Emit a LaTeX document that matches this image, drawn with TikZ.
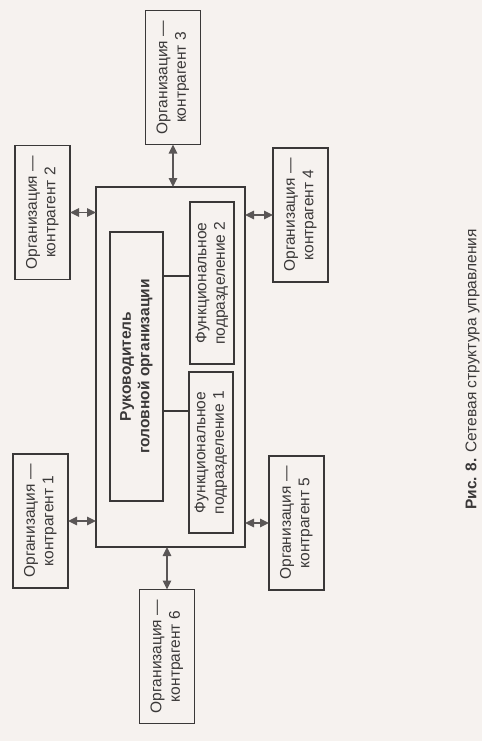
\documentclass[tikz,border=0pt]{standalone}
\usepackage{fontspec}
\setmainfont{Liberation Sans}
\usetikzlibrary{arrows.meta}
\definecolor{paper}{HTML}{F6F2EF}
\definecolor{ink}{HTML}{3A3838}
\definecolor{arr}{HTML}{5A5656}
\newcommand{\rtxt}[1]{\rotatebox{90}{\begin{tabular}{@{}c@{}}#1\end{tabular}}}
\begin{document}
\begin{tikzpicture}[x=1pt,y=-1pt,
  every node/.style={inner sep=0pt, outer sep=0pt, text=ink,
    font=\fontsize{15.5}{18.5}\selectfont},
  box/.style={draw=ink, line width=1.1pt, fill=paper},
  org/.style={box, minimum width=55pt, minimum height=134pt},
  link/.style={draw=arr, line width=1.4pt, {Triangle[length=9pt,width=8.5pt]}-{Triangle[length=9pt,width=8.5pt]}},
  plain/.style={draw=ink, line width=1.1pt}]
\fill[paper] (0,0) rectangle (482,741);
\useasboundingbox (0,0) rectangle (482,741);
% main frame
\node[box, minimum width=149pt, minimum height=360pt] (big) at (170.5,367) {};
\node[box, minimum width=53pt, minimum height=269pt] (head) at (136.5,366.5)
  {\rtxt{\bfseries Руководитель\\ \bfseries головной организации}};
\node[box, minimum width=44pt, minimum height=162pt] (func2) at (212,283)
  {\rtxt{Функциональное\\ подразделение 2}};
\node[box, minimum width=44pt, minimum height=161pt] (func1) at (211,452.5)
  {\rtxt{Функциональное\\ подразделение 1}};
% counterparties
\node[org] (org3) at (173,77.5) {\rtxt{Организация —\\ контрагент 3}};
\node[org] (org2) at (42.5,212.5) {\rtxt{Организация —\\ контрагент 2}};
\node[org] (org4) at (300.5,215) {\rtxt{Организация —\\ контрагент 4}};
\node[org] (org1) at (40.5,521) {\rtxt{Организация —\\ контрагент 1}};
\node[org] (org5) at (296.5,523) {\rtxt{Организация —\\ контрагент 5}};
\node[org] (org6) at (167,656.5) {\rtxt{Организация —\\ контрагент 6}};
% internal links
\coordinate (f2) at ([yshift=7pt]func2.west);
\draw[plain] (f2) -- (head.east |- f2);
\coordinate (f1) at ([yshift=41.5pt]func1.west);
\draw[plain] (f1) -- (head.east |- f1);
% external links
\draw[link] (org3.south) -- (org3.south |- big.north);
\draw[link] (org2.east) -- (org2.east -| big.west);
\draw[link] (org4.west) -- (org4.west -| big.east);
\draw[link] (org1.east) -- (org1.east -| big.west);
\draw[link] (org5.west) -- (org5.west -| big.east);
\draw[link] (org6.north) -- (org6.north |- big.south);
% caption
\node[rotate=90, font=\fontsize{15.5}{18}\selectfont] (cap) at (472.5,369.5)
  {\textbf{Рис. 8.} Сетевая структура управления};
\end{tikzpicture}
\end{document}
